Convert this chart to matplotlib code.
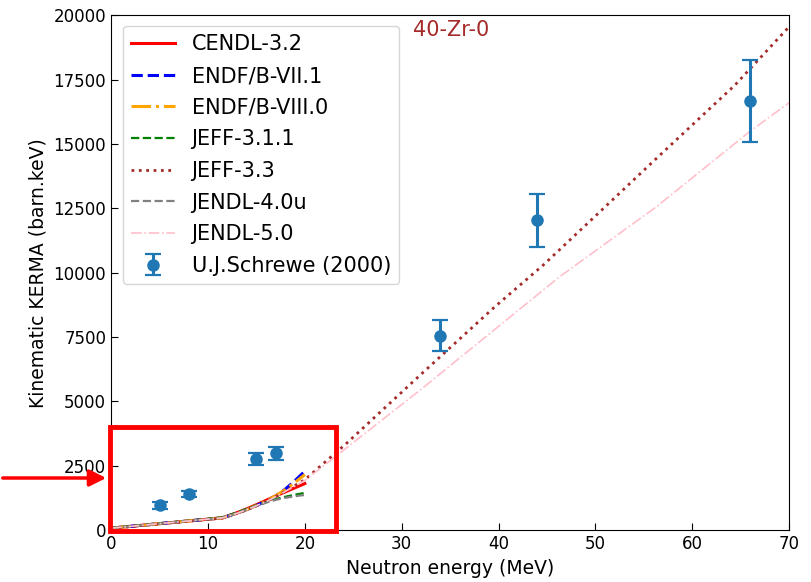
import numpy as np
import matplotlib.pyplot as plt
from matplotlib.patches import Rectangle, FancyArrowPatch

# evaluated libraries below 20 MeV (energy in MeV, KERMA in barn.keV)
e_low = [0, 2, 4, 6, 8, 10, 11.5, 13, 14, 15, 16, 17, 18, 19, 20]
cendl = [80, 150, 220, 290, 360, 430, 480, 680, 830, 990, 1160, 1330, 1490, 1650, 1810]
endf71 = [80, 150, 220, 290, 360, 430, 480, 660, 800, 960, 1120, 1330, 1600, 1930, 2290]
endf80 = [80, 150, 220, 290, 360, 430, 480, 660, 800, 960, 1130, 1340, 1580, 1860, 2160]
jeff311 = [90, 160, 230, 300, 370, 440, 500, 690, 830, 960, 1090, 1210, 1300, 1380, 1450]
jendl40 = [80, 150, 220, 290, 360, 430, 480, 660, 800, 940, 1070, 1180, 1260, 1320, 1370]

# libraries extending to 70 MeV
e_jeff33 = [0, 2, 4, 6, 8, 10, 11.5, 13, 14, 15, 16, 17, 18, 19, 20, 24.3, 31.9, 39.6, 44.6, 50, 56, 64.4, 70]
jeff33 = [70, 140, 210, 280, 350, 420, 470, 650, 790, 940, 1100, 1300, 1520, 1740, 1960, 3370, 6020, 8670,
          10290, 12200, 14330, 17280, 19550]
e_jendl50 = [0, 2, 4, 6, 8, 10, 11.5, 13, 14, 15, 16, 17, 18, 19, 20, 23.3, 31.9, 46.3, 56.3, 65.9, 70]
jendl50 = [80, 150, 220, 290, 360, 430, 480, 660, 800, 950, 1110, 1300, 1510, 1720, 1930, 2900, 5440, 9840,
           12560, 15470, 16600]

# measurement
e_exp = [5, 8, 15, 17, 34, 44, 66]
k_exp = [970, 1400, 2750, 2990, 7550, 12040, 16660]
k_err = [130, 130, 230, 250, 600, 1030, 1580]

fig = plt.figure(figsize=(8.11, 5.82), dpi=100)
ax = fig.add_axes([0.137, 0.089, 0.836, 0.885])

ax.plot(e_low, cendl, color="red", lw=2.2, label="CENDL-3.2")
ax.plot(e_low, endf71, color="blue", ls="--", lw=2.2, label="ENDF/B-VII.1")
ax.plot(e_low, endf80, color="orange", ls="-.", lw=2.2, label="ENDF/B-VIII.0")
ax.plot(e_low, jeff311, color="green", ls="--", lw=1.6, label="JEFF-3.1.1")
ax.plot(e_jeff33, jeff33, color="brown", ls=":", lw=2, label="JEFF-3.3")
ax.plot(e_low, jendl40, color="gray", ls="--", lw=1.6, label="JENDL-4.0u")
ax.plot(e_jendl50, jendl50, color="pink", ls="-.", lw=1.2, label="JENDL-5.0")
ax.errorbar(e_exp, k_exp, yerr=k_err, fmt="o", color="#1f77b4", ms=8, elinewidth=2.2,
            capsize=6, capthick=1.6, label="U.J.Schrewe (2000)")

ax.set_xlim(0, 70)
ax.set_ylim(0, 20000)
ax.set_xlabel("Neutron energy (MeV)", fontsize=13.5)
ax.set_ylabel("Kinematic KERMA (barn.keV)", fontsize=13.5)
ax.tick_params(direction="in", labelsize=12, length=5)
ax.text(31.2, 19200, "40-Zr-0", color="brown", fontsize=15)
ax.legend(loc="upper left", fontsize=15, handlelength=2.1, labelspacing=0.56,
          borderaxespad=0.4, bbox_to_anchor=(0.005, 0.995))

# highlight box and arrow drawn on top of the figure
fig.patches.append(Rectangle((110.5 / 811, 1 - 531 / 582), 225 / 811, 104 / 582,
                             transform=fig.transFigure, fill=False, ec="red", lw=3.5))
fig.patches.append(FancyArrowPatch((0.0, 1 - 478 / 582), (109 / 811, 1 - 478 / 582),
                                   transform=fig.transFigure, color="red", lw=2.5,
                                   arrowstyle="-|>", mutation_scale=25))

fig.savefig("out.png", dpi=100)
